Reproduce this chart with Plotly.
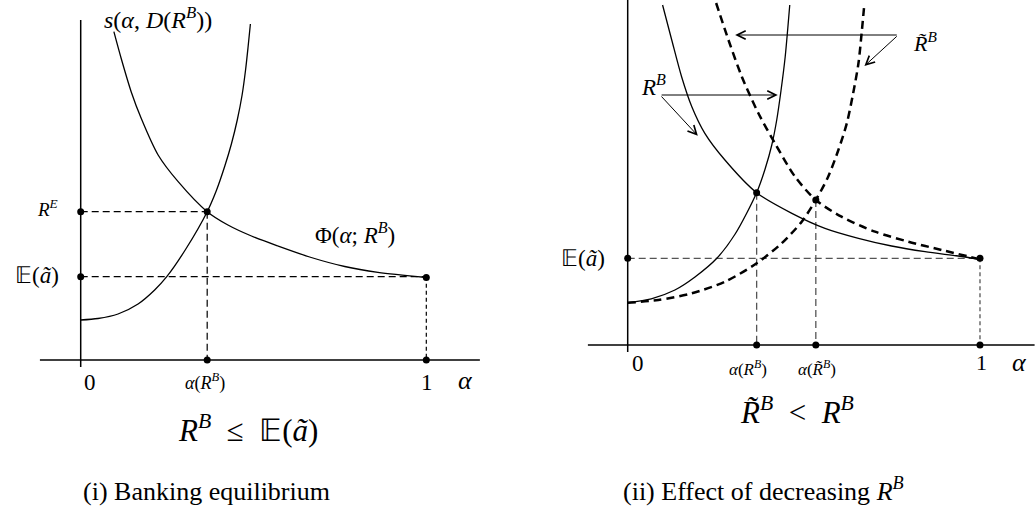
import plotly.graph_objects as go

# ---------------- data ----------------
# Panel (i): Banking equilibrium   (x = alpha, y = return level)
s1_alpha = [0.0, 0.050, 0.108, 0.166, 0.214, 0.249, 0.306, 0.366, 0.392, 0.417, 0.436, 0.453, 0.467, 0.477, 0.484, 0.491]
s1_value = [0.40, 0.415, 0.46, 0.56, 0.70, 0.833, 1.12, 1.483, 1.69, 1.94, 2.16, 2.40, 2.65, 2.90, 3.12, 3.36]
phi1_alpha = [0.096, 0.117, 0.146, 0.175, 0.224, 0.282, 0.366, 0.426, 0.494, 0.571, 0.667, 0.764, 0.860, 1.0]
phi1_value = [3.283, 3.017, 2.683, 2.417, 2.05, 1.783, 1.483, 1.35, 1.24, 1.14, 1.025, 0.935, 0.877, 0.825]
eq1_alpha = 0.366
eq1_RE = 1.483
exp_a1 = 0.833

# Panel (ii): Effect of decreasing R^B
s2_alpha = [0.0, 0.067, 0.134, 0.191, 0.253, 0.305, 0.366, 0.390, 0.409, 0.423, 0.435, 0.447, 0.454, 0.460]
s2_value = [0.423, 0.462, 0.55, 0.68, 0.867, 1.11, 1.523, 1.76, 2.00, 2.25, 2.54, 2.88, 3.15, 3.40]
s2t_alpha = [0.0, 0.087, 0.182, 0.276, 0.366, 0.437, 0.494, 0.534, 0.569, 0.598, 0.622, 0.640, 0.655, 0.664, 0.672]
s2t_value = [0.423, 0.45, 0.517, 0.633, 0.817, 1.017, 1.233, 1.45, 1.683, 1.95, 2.217, 2.517, 2.817, 3.117, 3.42]
phi2_alpha = [0.099, 0.125, 0.153, 0.182, 0.219, 0.276, 0.366, 0.466, 0.560, 0.655, 0.749, 0.844, 0.938, 1.0]
phi2_value = [3.40, 3.05, 2.683, 2.383, 2.117, 1.85, 1.523, 1.317, 1.167, 1.067, 0.99, 0.933, 0.89, 0.857]
phi2t_alpha = [0.251, 0.286, 0.324, 0.371, 0.418, 0.475, 0.534, 0.607, 0.702, 0.797, 0.891, 1.0]
phi2t_value = [3.42, 3.05, 2.683, 2.317, 2.017, 1.683, 1.45, 1.283, 1.133, 1.033, 0.95, 0.857]
eq2_alpha = 0.366
eq2_value = 1.523
eq2t_alpha = 0.534
eq2t_value = 1.45
exp_a2 = 0.867

FONT = "Liberation Serif"

fig = go.Figure()

def line(xs, ys, xa, ya, width=1.3, dash="solid", color="black", shape="spline"):
    fig.add_trace(go.Scatter(x=xs, y=ys, mode="lines", xaxis=xa, yaxis=ya,
                             line=dict(color=color, width=width, dash=dash, shape=shape, smoothing=0.8),
                             hoverinfo="skip", showlegend=False))

def dots(xs, ys, xa, ya):
    fig.add_trace(go.Scatter(x=xs, y=ys, mode="markers", xaxis=xa, yaxis=ya,
                             marker=dict(color="black", size=7),
                             hoverinfo="skip", showlegend=False))

# ---------- panel (i) ----------
line([-0.118, 1.155], [0, 0], "x", "y", width=1.5, shape="linear")
line([0, 0], [-0.07, 3.40], "x", "y", width=1.5, shape="linear")
line([0, eq1_alpha], [eq1_RE, eq1_RE], "x", "y", width=1.2, dash="7px,4px", shape="linear")
line([eq1_alpha, eq1_alpha], [eq1_RE, 0], "x", "y", width=1.2, dash="7px,4px", shape="linear")
line([0, 1], [exp_a1, exp_a1], "x", "y", width=1.2, dash="7px,4px", shape="linear")
line([1, 1], [exp_a1, 0], "x", "y", width=1.2, dash="4px,3px", shape="linear")
line(s1_alpha, s1_value, "x", "y")
line(phi1_alpha, phi1_value, "x", "y")
dots([0, eq1_alpha, 0, 1, eq1_alpha, 1], [eq1_RE, eq1_RE, exp_a1, 0.825, 0, 0], "x", "y")

# ---------- panel (ii) ----------
line([-0.113, 1.155], [0, 0], "x2", "y2", width=1.5, shape="linear")
line([0, 0], [-0.07, 3.45], "x2", "y2", width=1.5, shape="linear")
g = "#555555"
line([0, 1], [exp_a2, exp_a2], "x2", "y2", width=1.3, dash="7px,4px", color=g, shape="linear")
line([eq2_alpha, eq2_alpha], [eq2_value, 0], "x2", "y2", width=1.3, dash="7px,4px", color=g, shape="linear")
line([eq2t_alpha, eq2t_alpha], [eq2t_value, 0], "x2", "y2", width=1.3, dash="7px,4px", color=g, shape="linear")
line([1, 1], [exp_a2, 0], "x2", "y2", width=1.3, dash="4px,3px", color=g, shape="linear")
line(s2_alpha, s2_value, "x2", "y2")
line(phi2_alpha, phi2_value, "x2", "y2")
line(s2t_alpha, s2t_value, "x2", "y2", width=2.5, dash="8px,5px")
line(phi2t_alpha, phi2t_value, "x2", "y2", width=2.5, dash="8px,5px")
dots([0, eq2_alpha, eq2t_alpha, 1, eq2_alpha, eq2t_alpha, 1],
     [exp_a2, eq2_value, eq2t_value, exp_a2, 0, 0, 0], "x2", "y2")

ann = []
def text(t, x, y, xr, yr, size):
    ann.append(dict(text=t, x=x, y=y, xref=xr, yref=yr, showarrow=False,
                    font=dict(family=FONT, size=size, color="black"),
                    xanchor="center", yanchor="middle"))

def arrow(x0, y0, x1, y1):
    ann.append(dict(x=x1, y=y1, ax=x0, ay=y0, xref="x2", yref="y2", axref="x2", ayref="y2",
                    text="", showarrow=True, arrowhead=5, arrowsize=1.7, arrowwidth=1, arrowcolor="black"))

# panel (i) labels
text("<i>s</i>(<i>α</i>, <i>D</i>(<i>R</i><sup><i>B</i></sup>))", 0.225, 3.42, "x", "y", 24)
text("<i>R</i><sup><i>E</i></sup>", -0.097, 1.52, "x", "y", 19)
text("Φ(<i>α</i>; <i>R</i><sup><i>B</i></sup>)", 0.793, 1.27, "x", "y", 23)
text("𝔼(<i>ã</i>)", -0.127, 0.85, "x", "y", 23)
text("0", 0.027, -0.22, "x", "y", 23)
text("<i>α</i>(<i>R</i><sup><i>B</i></sup>)", 0.360, -0.22, "x", "y", 18)
text("1", 1.002, -0.22, "x", "y", 23)
text("<i>α</i>", 1.112, -0.20, "x", "y", 26)
text("<i>R</i><sup><i>B</i></sup>  ≤  𝔼(<i>a\u0303</i>)", 0.239, 0.164, "paper", "paper", 31)
text("(i) Banking equilibrium", 0.1993, 0.040, "paper", "paper", 26)

# panel (ii) labels
text("𝔼(<i>ã</i>)", -0.127, 0.87, "x2", "y2", 23)
text("0", 0.029, -0.18, "x2", "y2", 23)
text("<i>α</i>(<i>R</i><sup><i>B</i></sup>)", 0.341, -0.23, "x2", "y2", 17)
text("<i>α</i>(<i>R\u0303</i><sup><i>B</i></sup>)", 0.537, -0.23, "x2", "y2", 17)
text("1", 1.003, -0.17, "x2", "y2", 22)
text("<i>α</i>", 1.111, -0.17, "x2", "y2", 26)
text("<i>R\u0303</i><sup><i>B</i></sup>", 0.844, 3.033, "x2", "y2", 22)
text("<i>R</i><sup><i>B</i></sup>", 0.073, 2.60, "x2", "y2", 23)
arrow(0.768, 3.10, 0.305, 3.10)
arrow(0.768, 3.10, 0.672, 2.79)
arrow(0.092, 2.50, 0.426, 2.50)
arrow(0.092, 2.50, 0.199, 2.093)
text("<i>R\u0303</i><sup><i>B</i></sup>  &lt;  <i>R</i><sup><i>B</i></sup>", 0.769, 0.199, "paper", "paper", 31)
text("(ii) Effect of decreasing <i>R</i><sup><i>B</i></sup>", 0.7365, 0.043, "paper", "paper", 26)

ax = dict(visible=False, showgrid=False, zeroline=False, fixedrange=True)
fig.update_layout(
    width=1036, height=512, margin=dict(l=0, r=0, t=0, b=0),
    paper_bgcolor="white", plot_bgcolor="white",
    xaxis=dict(ax, domain=[0, 0.5], range=[-0.2335, 1.2653]),
    yaxis=dict(ax, domain=[0, 1], range=[-1.52, 3.60]),
    xaxis2=dict(ax, domain=[0.5, 1], range=[-0.3114, 1.1590]),
    yaxis2=dict(ax, domain=[0, 1], range=[-1.67, 3.45], anchor="x2"),
    annotations=ann, showlegend=False,
)
fig.write_html("out.html", config={"displayModeBar": False},
               post_script="document.body.style.margin='0';")
